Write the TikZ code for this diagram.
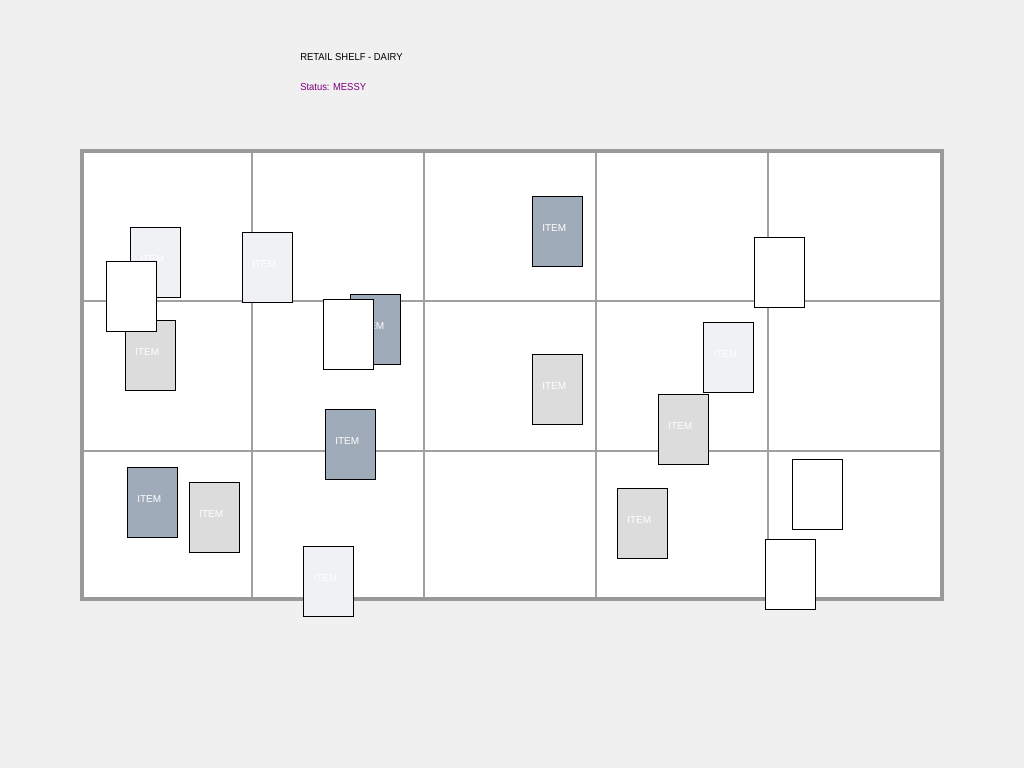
\documentclass[tikz,border=0pt]{standalone}
\usepackage{fontspec}
\setmainfont{Liberation Sans}
\newfontfamily\titlefont[FakeStretch=0.93]{Liberation Sans}
\usetikzlibrary{calc}
\definecolor{bg}{HTML}{F0F0F0}
\definecolor{framegray}{HTML}{999999}
\definecolor{divgray}{HTML}{A0A0A0}
\definecolor{slate}{HTML}{A0ABB9}
\definecolor{grayitem}{HTML}{DCDCDC}
\definecolor{lightitem}{HTML}{F0F1F5}
\definecolor{purp}{HTML}{800080}
\tikzset{
  itembox/.style={draw=black, line width=0.75pt, minimum width=37.5pt, minimum height=52.5pt, inner sep=0pt},
  itemlbl/.style={anchor=base west, inner sep=0pt, text=white, font=\fontsize{7.5}{9}\selectfont},
  titletext/.style={anchor=base west, inner sep=0pt, font=\titlefont\fontsize{7.6}{9}\selectfont},
  vdiv/.style={draw=divgray, line width=0.8pt},
  hdiv/.style={draw=divgray, line width=1.4pt},
  shelfframe/.style={draw=framegray, line width=3pt}
}
\newcommand\putitem[4]{%
  \node[itembox, fill=#2] (#1) at (#3+25,#4+35) {};
  \node[itemlbl] (#1t) at ($(#1.north west)+(10.5,35.5)$) {ITEM};}
\newcommand\putblank[3]{%
  \node[itembox, fill=white] (#1) at (#2+25,#3+35) {};}
\begin{document}
\begin{tikzpicture}[x=0.75pt,y=-0.75pt]
\fill[bg] (0,0) rectangle (1024,768);
\useasboundingbox (0,0) rectangle (1024,768);
% titles
\node[titletext] (title) at (300,60.3) {RETAIL SHELF - DAIRY};
\node[titletext, text=purp] (status) at (300,90.3) {Status: MESSY};
% shelf
\node[fill=white, inner sep=0pt, minimum width=645pt, minimum height=335.6pt] (shelf) at (512,375.25) {};
\foreach \xx in {252,424,596,768} \draw[vdiv] (\xx,151.5) -- (\xx,599);
\foreach \yy in {301,451} \draw[hdiv] (82,\yy) -- (942,\yy);
\draw[shelfframe] (shelf.north west) rectangle (shelf.south east);
% items
\putitem{a}{lightitem}{130}{227}
\putitem{c}{grayitem}{125}{320}
\putblank{b}{106}{261}
\putitem{d}{lightitem}{242}{232}
\putitem{e}{slate}{350}{294}
\putblank{f}{323}{299}
\putitem{g}{slate}{325}{409}
\putitem{h}{slate}{127}{467}
\putitem{i}{grayitem}{189}{482}
\putitem{j}{lightitem}{303}{546}
\putitem{k}{slate}{532}{196}
\putitem{l}{grayitem}{532}{354}
\putblank{m}{754}{237}
\putitem{n}{lightitem}{703}{322}
\putitem{o}{grayitem}{658}{394}
\putitem{p}{grayitem}{617}{488}
\putblank{q}{792}{459}
\putblank{r}{765}{539}
\end{tikzpicture}
\end{document}
